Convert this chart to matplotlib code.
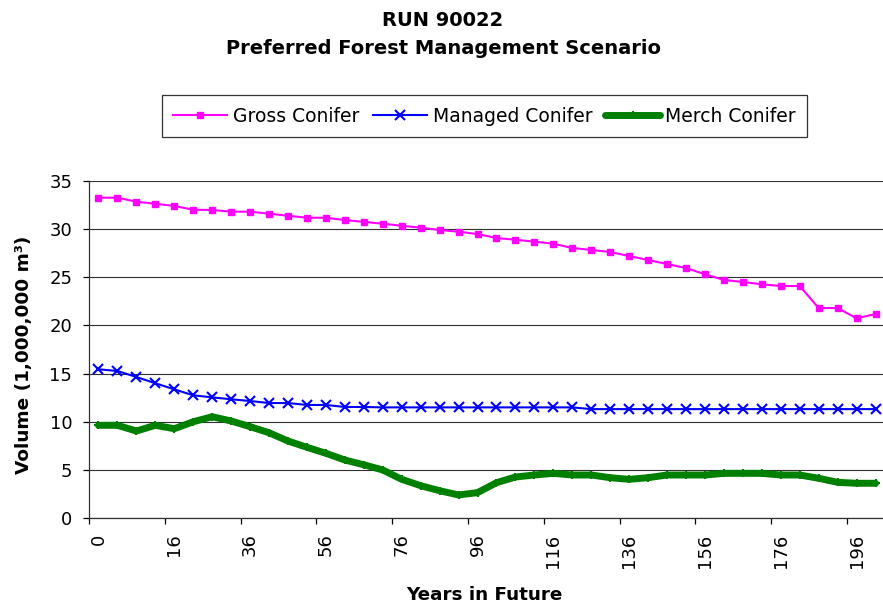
import matplotlib

matplotlib.use("Agg")
import matplotlib.pyplot as plt  # noqa: E402
import numpy as np  # noqa: E402

# the reference text is wide-set, DejaVu Sans matches its widths better than Arial
plt.rcParams["font.family"] = ["DejaVu Sans"]

# years in future (category axis, one entry per period)
years = [0, 1, 6, 11, 16, 21, 26, 31, 36, 41, 46, 51, 56, 61, 66, 71, 76, 81, 86, 91, 96,
         101, 106, 111, 116, 121, 126, 131, 136, 141, 146, 151, 156, 161, 166, 171, 176,
         181, 186, 191, 196, 201]

gross_conifer = [33.24, 33.24, 32.82, 32.61, 32.38, 31.99, 31.96, 31.79, 31.79, 31.58,
                 31.37, 31.16, 31.16, 30.92, 30.73, 30.54, 30.33, 30.13, 29.89, 29.71,
                 29.47, 29.06, 28.88, 28.68, 28.47, 28.02, 27.82, 27.61, 27.19, 26.78,
                 26.36, 25.95, 25.30, 24.71, 24.50, 24.26, 24.08, 24.08, 21.80, 21.80,
                 20.73, 21.18]

managed_conifer = [15.45, 15.27, 14.65, 14.00, 13.37, 12.75, 12.54, 12.34, 12.16, 11.95,
                   11.95, 11.75, 11.75, 11.54, 11.54, 11.50, 11.50, 11.50, 11.50, 11.50,
                   11.50, 11.50, 11.50, 11.50, 11.50, 11.50, 11.32, 11.32, 11.32, 11.32,
                   11.32, 11.32, 11.32, 11.32, 11.32, 11.32, 11.32, 11.32, 11.32, 11.32,
                   11.32, 11.32]

merch_conifer = [9.64, 9.64, 9.05, 9.64, 9.29, 10.01, 10.53, 10.09, 9.50, 8.87,
                 8.01, 7.36, 6.74, 6.04, 5.55, 5.01, 4.04, 3.38, 2.86, 2.42,
                 2.66, 3.69, 4.28, 4.49, 4.66, 4.49, 4.49, 4.21, 4.04, 4.21,
                 4.49, 4.49, 4.49, 4.66, 4.66, 4.66, 4.49, 4.49, 4.15, 3.73,
                 3.63, 3.63]


def main() -> None:
    W, H = 883, 608
    fig = plt.figure(figsize=(W / 100, H / 100), dpi=100)
    left, right, top, bottom = 89, 885, 180.7, 518.3
    aw, ah = right - left, bottom - top
    ax = fig.add_axes([left / W, 1 - bottom / H, aw / W, ah / H])

    idx = np.arange(len(years))

    ax.plot(idx, gross_conifer, color="#FF00FF", lw=1.5, marker="s", ms=4,
            mec="#FF00FF", label="Gross Conifer", zorder=3)
    ax.plot(idx, managed_conifer, color="#0000FF", lw=1.5, marker="x", ms=6.5,
            mew=1.5, label="Managed Conifer", zorder=3)
    ax.plot(idx, merch_conifer, color="#008000", lw=5, marker="+", ms=6,
            mew=1.5, label="Merch Conifer", solid_capstyle="round", zorder=3)

    ax.set_xlim(-0.5, len(years) - 0.5)
    ax.set_ylim(0, 35)
    ax.set_yticks(range(0, 36, 5))
    ax.yaxis.grid(True, color="#303030", lw=0.8)
    ax.set_axisbelow(True)

    # labels every 4 categories, tick marks between categories
    lab_idx = idx[::4]
    ax.set_xticks(lab_idx)
    ax.set_xticklabels([str(years[i]) for i in lab_idx], rotation=90, va="top", ha="center")
    ax.set_xticks(np.arange(-0.5, len(years) - 0.5, 4), minor=True)
    ax.tick_params(axis="x", which="major", length=0, pad=11, labelsize=13)
    ax.tick_params(axis="x", which="minor", length=4.5, width=0.9, direction="out")
    ax.tick_params(axis="y", length=4.5, width=0.9, labelsize=13, pad=7.5)

    for side in ("top", "right"):
        ax.spines[side].set_visible(False)
    for side in ("left", "bottom"):
        ax.spines[side].set_color("#303030")
        ax.spines[side].set_linewidth(0.9)

    ax.set_ylabel("Volume (1,000,000 m\u00b3)", fontsize=13.3, fontweight="bold")
    ax.yaxis.set_label_coords(-(left - 33) / aw, (bottom - 355) / ah)
    ax.set_xlabel("Years in Future", fontsize=13.2, fontweight="bold")
    ax.xaxis.set_label_coords((484 - left) / aw, -(586 - bottom) / ah)

    fig.text(443 / W, 1 - 21 / H, "RUN 90022", ha="center", va="center",
             fontsize=14, fontweight="bold")
    fig.text(443 / W, 1 - 49 / H, "Preferred Forest Management Scenario", ha="center",
             va="center", fontsize=14, fontweight="bold")

    leg = fig.legend(loc="center", bbox_to_anchor=(484.5 / W, 1 - 116 / H), ncol=3,
                     fontsize=13.5, frameon=True, fancybox=False, handlelength=2.9,
                     handletextpad=0.3, columnspacing=0.7, borderpad=0.6,
                     borderaxespad=0)
    leg.get_frame().set_edgecolor("black")
    leg.get_frame().set_linewidth(0.9)

    fig.savefig("out.png", dpi=100)
    plt.close(fig)


if __name__ == "__main__":
    main()
